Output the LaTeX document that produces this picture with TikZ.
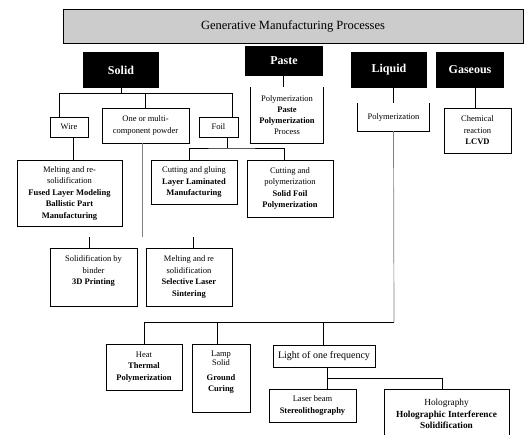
\documentclass[tikz,border=0pt]{standalone}
\usepackage{fontspec}
\setmainfont{Liberation Serif}
\tikzset{
  box/.style={draw, line width=0.9pt, align=center, inner sep=1pt, font=\fontsize{8.5}{11.5}\selectfont},
  openbox/.style={align=center, inner sep=1pt, font=\fontsize{8.5}{11}\selectfont},
  head/.style={fill=black, text=white, inner sep=0pt, font=\fontsize{12}{14}\selectfont\bfseries},
  link/.style={line width=0.7pt},
}
\begin{document}
\begin{tikzpicture}[x=1pt,y=-1pt]
  \useasboundingbox (0,0) rectangle (525,434);
  % title
  \node[draw, fill=gray!40, line width=0.9pt, minimum width=460, minimum height=34,
        font=\fontsize{12.5}{14}\selectfont] (gmp) at (293,26) {Generative Manufacturing Processes};
  % the four states
  \node[head, minimum width=76, minimum height=36] (solid)   at (121,70) {Solid};
  \node[head, minimum width=78, minimum height=30] (paste)   at (284,61) {Paste};
  \node[head, minimum width=76, minimum height=36] (liquid)  at (389,70) {Liquid};
  \node[head, minimum width=68, minimum height=36] (gaseous) at (470,70) {Gaseous};

  % solid branch
  \node[box, minimum width=38, minimum height=20] (wire)   at (69,127)    {Wire};
  \node[box, minimum width=87, minimum height=35] (powder) at (145.5,125.5) {One or multi-\\component powder};
  \node[box, minimum width=39, minimum height=20] (foil)   at (218.5,127) {Foil};
  \node[box, minimum width=105, minimum height=66] (melt)  at (69.5,193)
    {Melting and re-\\solidification\\\textbf{Fused Layer Modeling}\\\textbf{Ballistic Part}\\\textbf{Manufacturing}};
  \node[box, minimum width=86, minimum height=44] (cutglue) at (194,182)
    {Cutting and gluing\\\textbf{Layer Laminated}\\\textbf{Manufacturing}};
  \node[box, minimum width=86, minimum height=57] (solidfoil) at (290,188.5)
    {Cutting and\\polymerization\\\textbf{Solid Foil}\\\textbf{Polymerization}};
  \node[box, minimum width=87, minimum height=58] (binder) at (93.5,277)
    {Solidification by\\binder\\\textbf{3D Printing}\\[2pt]};
  \node[box, minimum width=86, minimum height=58] (sls) at (189,277)
    {Melting and re\\solidification\\\textbf{Selective Laser}\\\textbf{Sintering}};

  \coordinate (sj) at (121,93);
  \coordinate (fj) at (227,148);
  \coordinate (pe) at (142,237);
  \draw[link] (solid.south) -- (sj);
  \draw[link] ([xshift=-10pt]wire.north) |- ([xshift=13.5pt]foil.north |- sj) -- ([xshift=13.5pt]foil.north);
  \draw[link] (powder.north) -- (powder.north |- sj);
  \draw[link] ([xshift=4pt]wire.south) -- ([xshift=4pt]wire.south |- melt.north);
  \draw[link] ([xshift=8.5pt]foil.south) -- (fj);
  \draw[link] ([xshift=-5pt]cutglue.north) |- (fj) -| ([xshift=-6pt]solidfoil.north);
  \draw[link, gray] ([xshift=-3.5pt]powder.south) -- (pe);
  \draw[link] ([xshift=-4.5pt]binder.north) -- ++(0,-11);
  \draw[link] ([xshift=4pt]sls.north) -- ++(0,-11);

  % paste branch
  \node[openbox, minimum width=72, minimum height=56] (pastesub) at (287,115)
    {Polymerization\\\textbf{Paste}\\\textbf{Polymerization}\\Process};
  \draw[line width=0.9pt] (pastesub.north west) |- (pastesub.south east) -- (pastesub.north east);
  \draw[link] ([xshift=-1pt]paste.south) -- ([xshift=-1pt]paste.south |- pastesub.north);

  % liquid branch
  \node[openbox, minimum width=71, minimum height=28] (polym) at (393.5,117) {Polymerization};
  \draw[line width=0.9pt] (polym.north west) |- (polym.south east) -- (polym.north east);
  \draw[link] (polym.north) -- (polym.north |- liquid.south);
  \node[box, minimum width=76, minimum height=46] (heat) at (144,367)
    {Heat\\\textbf{Thermal}\\\textbf{Polymerization}};
  \node[box, minimum width=58, minimum height=68] (lamp) at (221,378)
    {Lamp\\[-2pt]Solid\\[3pt]\textbf{Ground}\\\textbf{Curing}\\[2pt]};
  \node[box, minimum width=102, minimum height=22, font=\fontsize{10}{12}\selectfont] (light) at (324,356)
    {Light of one frequency};
  \node[box, minimum width=87, minimum height=33] (laser) at (312.5,405.5)
    {Laser beam\\\textbf{Stereolithography}};
  \node[box, minimum width=125, minimum height=50, font=\fontsize{9.3}{11.5}\selectfont] (holo) at (446.5,414)
    {Holography\\\textbf{Holographic Interference}\\\textbf{Solidification}};

  \coordinate (lj) at (394,322);
  \coordinate (hj) at (442,378);
  \draw[link, gray] (polym.south) -- (lj);
  \draw[link] (lj) -| (heat.north);
  \draw[link] ([xshift=-4pt]lamp.north) -- ([xshift=-4pt]lamp.north |- lj);
  \draw[link] ([xshift=-1pt]light.north) -- ([xshift=-1pt]light.north |- lj);
  \draw[link] ([xshift=3pt]light.south) -- ([xshift=3pt]light.south |- laser.north);
  \draw[link] ([xshift=3pt]light.south |- hj) -| (holo.north -| hj);

  % gaseous branch
  \node[box, minimum width=67, minimum height=45] (chem) at (477.5,130.5)
    {Chemical\\reaction\\\textbf{LCVD}};
  \draw[link] ([xshift=5pt]gaseous.south) -- ([xshift=5pt]gaseous.south |- chem.north);
\end{tikzpicture}
\end{document}
